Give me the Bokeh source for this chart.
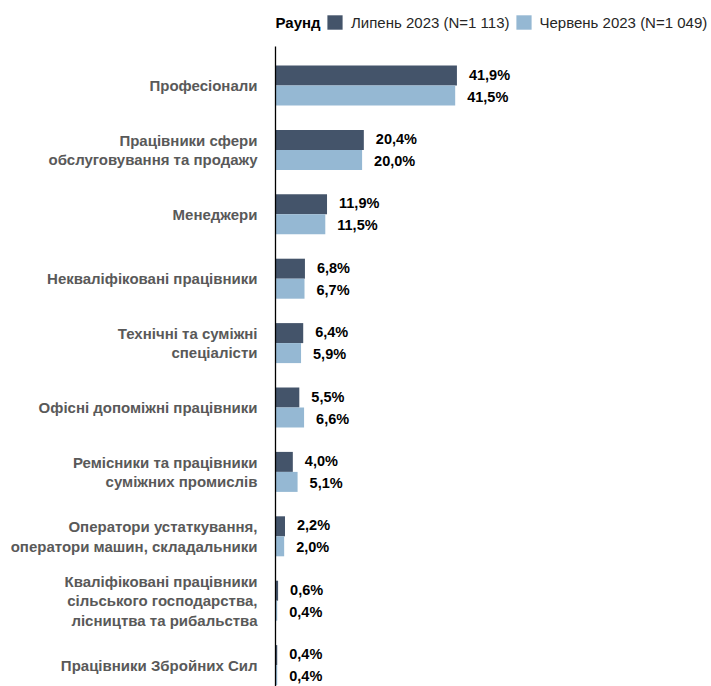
from bokeh.plotting import figure
from bokeh.models import ColumnDataSource, Range1d, Legend, LegendItem, Label
from bokeh.core.properties import value
from bokeh.embed import file_html
from bokeh.resources import INLINE

categories = [
    "Професіонали",
    "Працівники сфери\nобслуговування та продажу",
    "Менеджери",
    "Некваліфіковані працівники",
    "Технічні та суміжні\nспеціалісти",
    "Офісні допоміжні працівники",
    "Ремісники та працівники\nсуміжних промислів",
    "Оператори устаткування,\nоператори машин, складальники",
    "Кваліфіковані працівники\nсільського господарства,\nлісництва та рибальства",
    "Працівники Збройних Сил",
]
july_2023 = [41.9, 20.4, 11.9, 6.8, 6.4, 5.5, 4.0, 2.2, 0.6, 0.4]
june_2023 = [41.5, 20.0, 11.5, 6.7, 5.9, 6.6, 5.1, 2.0, 0.4, 0.4]
series_names = ["Липень 2023 (N=1 113)", "Червень 2023 (N=1 049)"]
legend_title = "Раунд"

DARK = "#44546A"
LIGHT = "#95B8D3"
FONT = "Liberation Sans"

W, H = 711, 686
px_per_pct = 4.33
axis_px = 275
px_per_cat = 64.4
top_center_px = 85

n = len(categories)
ypos = [n - 1 - i for i in range(n)]
x_start = -axis_px / px_per_pct
x_end = x_start + W / px_per_pct
y_end = (n - 1) + top_center_px / px_per_cat
y_start = y_end - H / px_per_cat

bar_h = 20 / px_per_cat
off = bar_h / 2

fmt = lambda v: f"{v:.1f}%".replace(".", ",")

src = ColumnDataSource(dict(
    cat=categories,
    y=ypos,
    y_dark=[y + off for y in ypos],
    y_light=[y - off for y in ypos],
    july=july_2023,
    june=june_2023,
    july_lbl=[fmt(v) for v in july_2023],
    june_lbl=[fmt(v) for v in june_2023],
))

p = figure(width=W, height=H, output_backend="svg", toolbar_location=None,
           x_range=Range1d(x_start, x_end), y_range=Range1d(y_start, y_end),
           min_border=0, min_border_left=0, min_border_right=0,
           min_border_top=0, min_border_bottom=0)
p.axis.visible = False
p.grid.visible = False
p.outline_line_color = None
p.background_fill_color = "white"
p.border_fill_color = "white"

r1 = p.hbar(y="y_dark", left=0, right="july", height=bar_h, source=src,
            fill_color=DARK, line_color=None)
r2 = p.hbar(y="y_light", left=0, right="june", height=bar_h, source=src,
            fill_color=LIGHT, line_color=None)

# vertical axis line
axis_top = y_end - 46 / px_per_cat
p.segment(x0=[0], y0=[y_start], x1=[0], y1=[axis_top], line_color="#000000", line_width=1.3)

# value labels
p.text(x="july", y="y_dark", text="july_lbl", source=src, x_offset=12, y_offset=-1,
       text_font=value(FONT), text_font_style="bold", text_font_size="14.5px",
       text_color="#000000", text_align="left", text_baseline="middle")
p.text(x="june", y="y_light", text="june_lbl", source=src, x_offset=12, y_offset=1,
       text_font=value(FONT), text_font_style="bold", text_font_size="14.5px",
       text_color="#000000", text_align="left", text_baseline="middle")

# category labels
p.text(x=0, y="y", text="cat", source=src, x_offset=-18,
       text_font=value(FONT), text_font_style="bold", text_font_size="15px",
       text_color="#595959", text_align="right", text_baseline="middle",
       text_line_height=1.15)

legend = Legend(items=[LegendItem(label=series_names[0], renderers=[r1]),
                       LegendItem(label=series_names[1], renderers=[r2])],
                orientation="horizontal", location=(325, H - 31),
                glyph_width=19, glyph_height=18, label_height=18,
                label_standoff=7, spacing=4, padding=0, margin=0,
                border_line_color=None, background_fill_alpha=0,
                label_text_font=FONT, label_text_font_size="15px",
                label_text_color="#262626")
p.add_layout(legend, "center")

p.add_layout(Label(x=275, y=H - 22, x_units="screen", y_units="screen",
                   text=legend_title, text_font=FONT, text_font_style="bold",
                   text_font_size="15px", text_color="#000000",
                   text_baseline="middle", text_align="left"))

open("out.html", "w").write(file_html(p, INLINE))
